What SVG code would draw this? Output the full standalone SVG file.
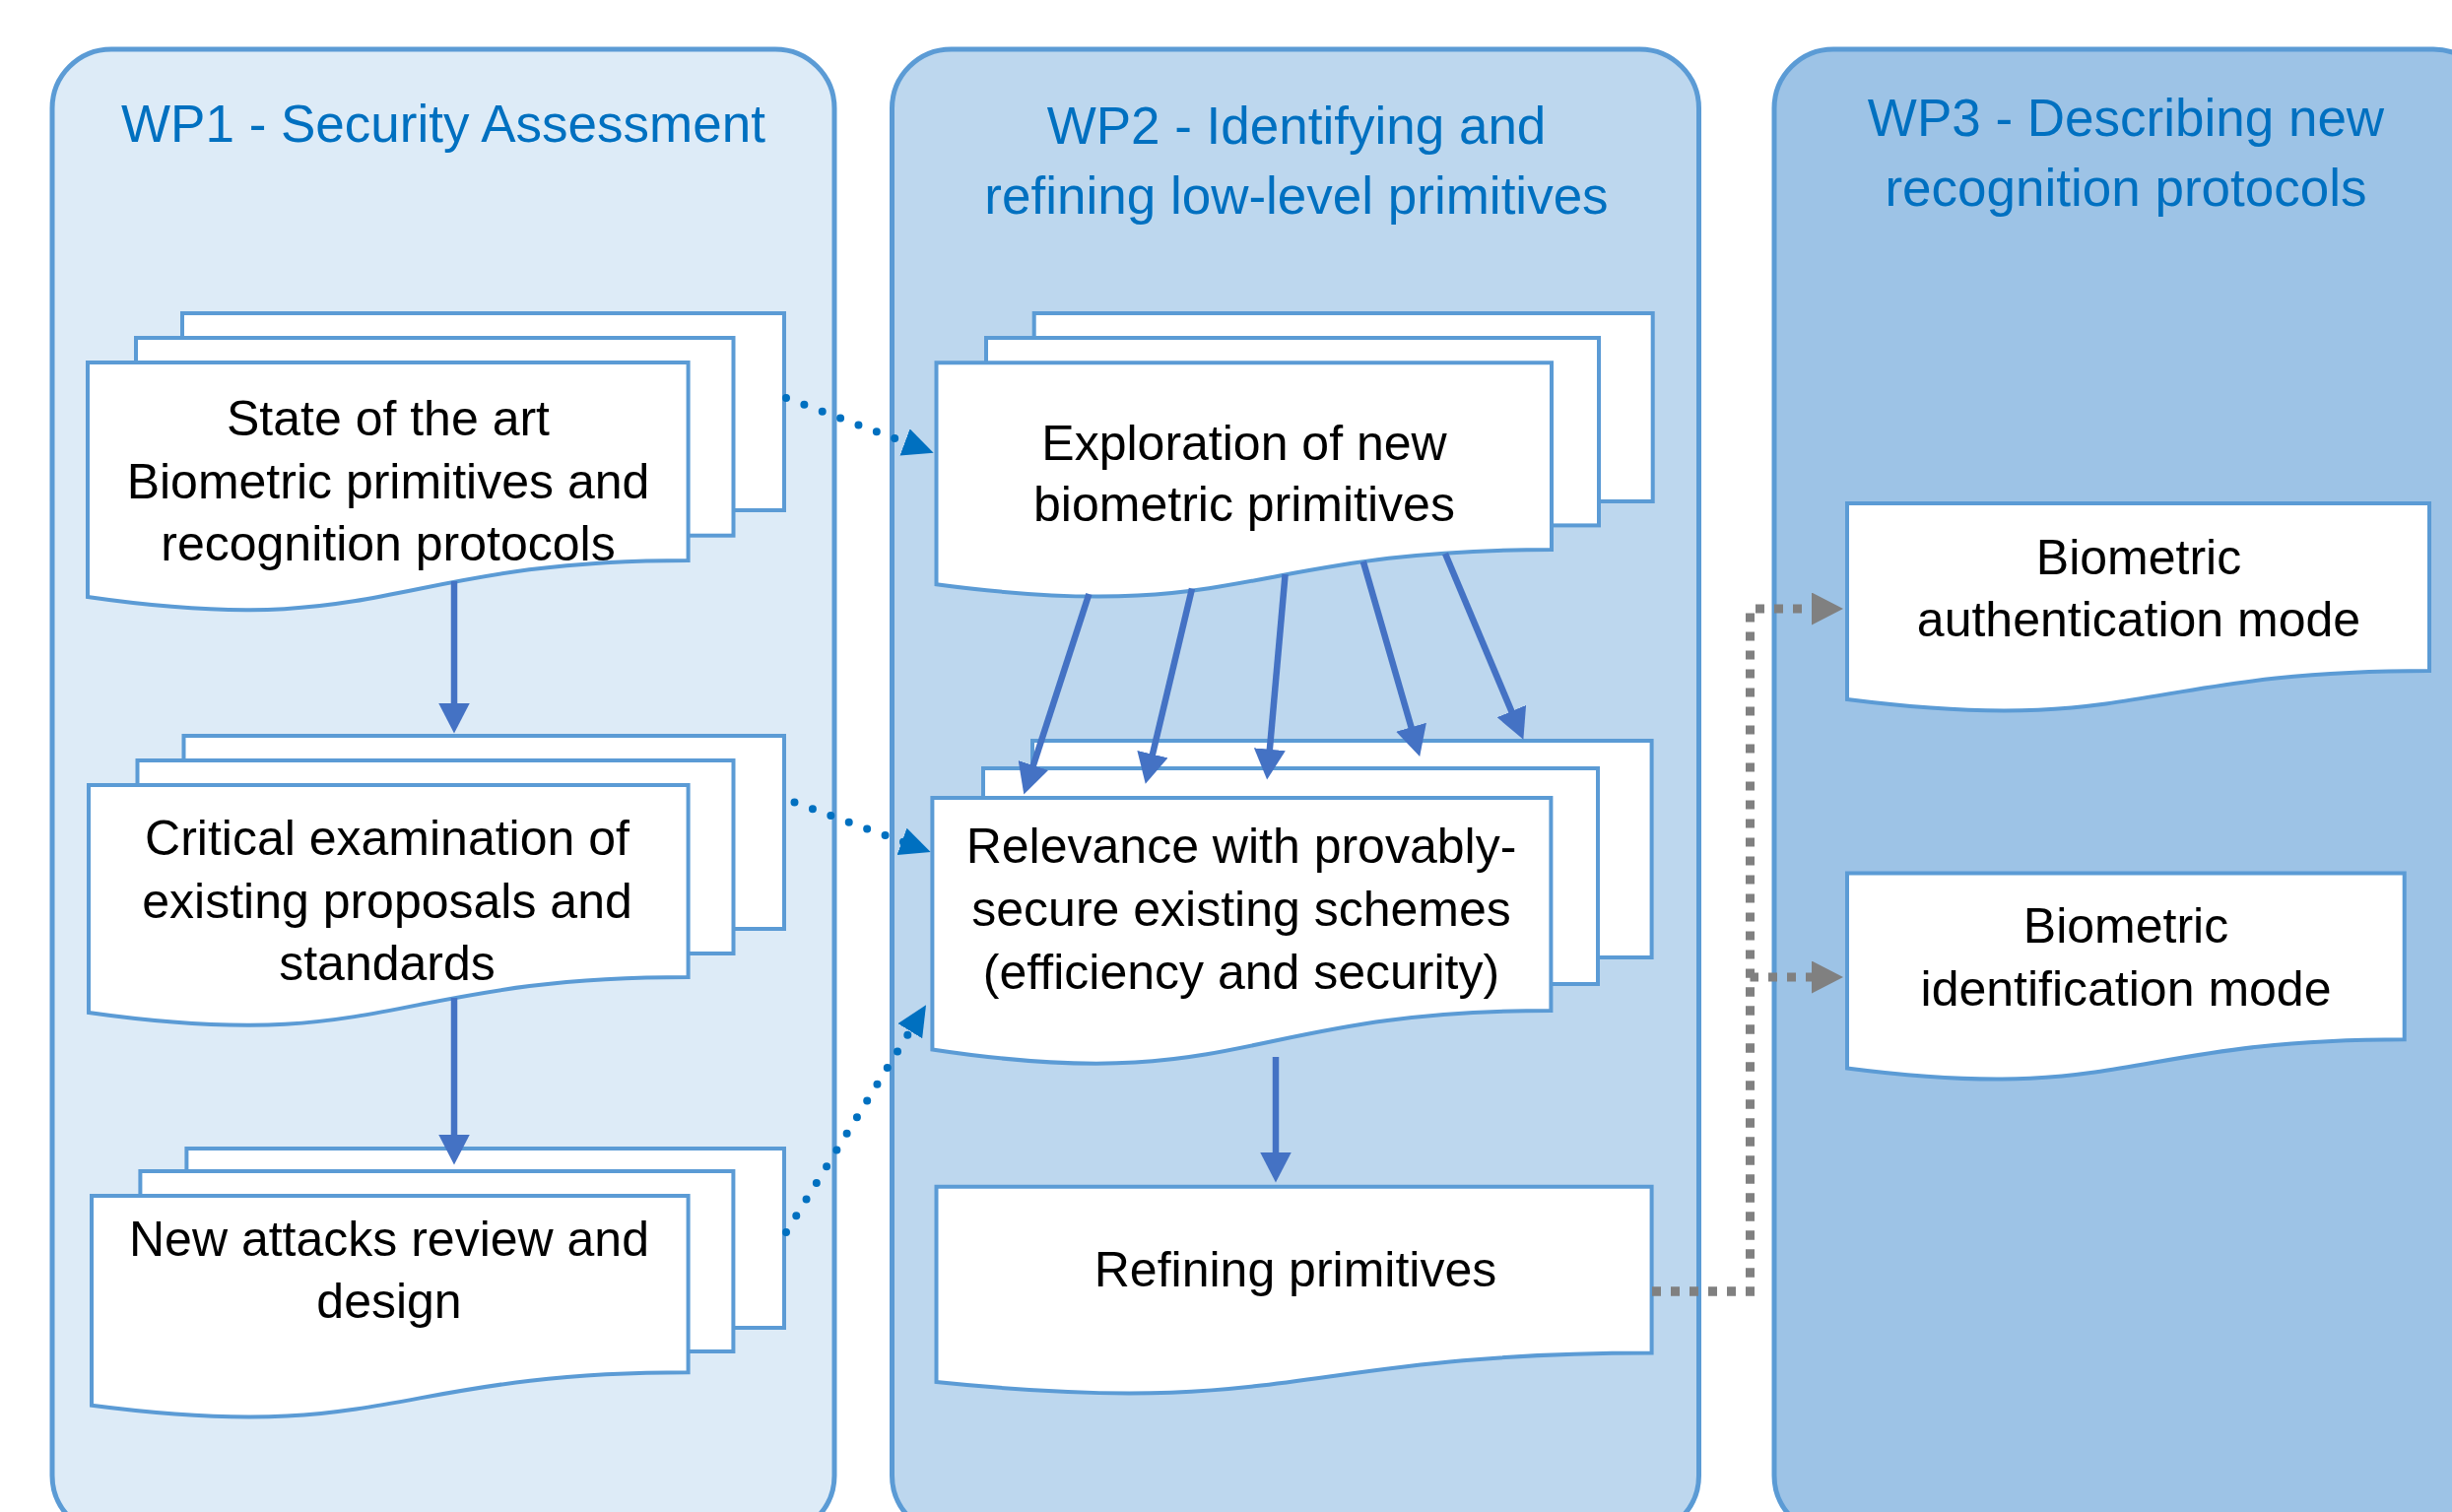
<svg xmlns="http://www.w3.org/2000/svg" width="2489" height="1535" viewBox="0 0 2489 1535">
  <defs>
    <style>
      .panel { stroke: #5B9BD5; stroke-width: 5; }
      .wp1 { fill: #DDEBF7; }
      .wp2 { fill: #BDD7EE; }
      .wp3 { fill: #9DC3E6; }
      .sheet { fill: #FFFFFF; stroke: #5B9BD5; stroke-width: 4; }
      .title { font-family: "Liberation Sans", Arial, sans-serif; font-size: 53px; fill: #0070C0; text-anchor: middle; }
      .label { font-family: "Liberation Sans", Arial, sans-serif; font-size: 50px; fill: #000000; text-anchor: middle; }
      .flow { fill: none; stroke: #4472C4; stroke-width: 6.5; marker-end: url(#headSolid); }
      .feed { fill: none; stroke: #0070C0; stroke-width: 8; stroke-linecap: round; stroke-dasharray: 0 19.6; marker-end: url(#headDot); }
      .out { fill: none; stroke: #808080; stroke-width: 9; stroke-dasharray: 9 10; marker-end: url(#headGray); }
    </style>
    <marker id="headSolid" markerUnits="userSpaceOnUse" markerWidth="32" markerHeight="32" refX="11" refY="16" orient="auto">
      <path d="M0,0 L31,16 L0,32 Z" fill="#4472C4"/>
    </marker>
    <marker id="headDot" markerUnits="userSpaceOnUse" markerWidth="33" markerHeight="30" refX="9" refY="14.5" orient="auto">
      <path d="M0,0 L31,14.5 L0,29 Z" fill="#0070C0"/>
    </marker>
    <marker id="headGray" markerUnits="userSpaceOnUse" markerWidth="34" markerHeight="33" refX="3" refY="16.5" orient="auto">
      <path d="M0,0 L32,16.5 L0,33 Z" fill="#808080"/>
    </marker>
  </defs>

  <rect width="2489" height="1535" fill="#FFFFFF"/>

  <!-- work package columns -->
  <g id="wp1">
    <rect class="panel wp1" x="53" y="50" width="794" height="1508" rx="60" ry="60"/>
    <text class="title" x="450" y="144">WP1 - Security Assessment</text>
  </g>
  <g id="wp2">
    <rect class="panel wp2" x="905.5" y="50" width="819" height="1508" rx="60" ry="60"/>
    <text class="title" x="1316" y="146">WP2 - Identifying and</text>
    <text class="title" x="1316" y="216.5">refining low-level primitives</text>
  </g>
  <g id="wp3">
    <rect class="panel wp3" x="1801" y="50" width="729" height="1508" rx="60" ry="60"/>
    <text class="title" x="2158" y="138.4">WP3 - Describing new</text>
    <text class="title" x="2158" y="209">recognition protocols</text>
  </g>

  <!-- WP1 tasks -->
  <g id="state-of-the-art">
    <rect class="sheet" x="185" y="318" width="611" height="200"/>
    <rect class="sheet" x="138" y="343" width="606.5" height="200.7"/>
    <path class="sheet" d="M89 368 H698.6 V569 C393.8 569 393.8 650.3 89 606.1 Z"/>
    <text class="label" x="394" y="442">State of the art</text>
    <text class="label" x="394" y="506">Biometric primitives and</text>
    <text class="label" x="394" y="569">recognition protocols</text>
  </g>
  <g id="critical-examination">
    <rect class="sheet" x="186.5" y="747" width="609.5" height="196"/>
    <rect class="sheet" x="139.5" y="772" width="605" height="196"/>
    <path class="sheet" d="M90 797 H698.6 V992 C394.3 992 394.3 1071 90 1028 Z"/>
    <text class="label" x="393" y="868">Critical examination of</text>
    <text class="label" x="393" y="931.5">existing proposals and</text>
    <text class="label" x="393" y="995">standards</text>
  </g>
  <g id="new-attacks">
    <rect class="sheet" x="189.4" y="1166" width="606.6" height="182"/>
    <rect class="sheet" x="142.4" y="1189" width="602" height="183"/>
    <path class="sheet" d="M93 1214 H698.6 V1393.3 C395.8 1393.3 395.8 1466.3 93 1426.8 Z"/>
    <text class="label" x="395" y="1275">New attacks review and</text>
    <text class="label" x="395" y="1337.5">design</text>
  </g>

  <!-- WP2 tasks -->
  <g id="exploration">
    <rect class="sheet" x="1049.7" y="318" width="628" height="191"/>
    <rect class="sheet" x="1001" y="343" width="622" height="190.4"/>
    <path class="sheet" d="M950.5 368.3 H1575 V558 C1262.75 558 1262.75 635 950.5 593.2 Z"/>
    <text class="label" x="1263" y="466.5">Exploration of new</text>
    <text class="label" x="1263" y="529">biometric primitives</text>
  </g>
  <g id="relevance">
    <rect class="sheet" x="1048" y="752" width="628.6" height="220"/>
    <rect class="sheet" x="998" y="780" width="624" height="219"/>
    <path class="sheet" d="M946.4 810 H1574.4 V1026 C1260.4 1026 1260.4 1113.1 946.4 1065.5 Z"/>
    <text class="label" x="1260" y="876">Relevance with provably-</text>
    <text class="label" x="1260" y="939.5">secure existing schemes</text>
    <text class="label" x="1260" y="1003.5">(efficiency and security)</text>
  </g>
  <g id="refining">
    <path class="sheet" d="M950.5 1204.8 H1676.6 V1373.6 C1313.5 1373.6 1313.5 1440.6 950.5 1403 Z"/>
    <text class="label" x="1315" y="1306">Refining primitives</text>
  </g>

  <!-- WP3 outputs -->
  <g id="authentication-mode">
    <path class="sheet" d="M1875 511 H2466 V681 C2170.5 681 2170.5 747.4 1875 710 Z"/>
    <text class="label" x="2171" y="582.5">Biometric</text>
    <text class="label" x="2171" y="646.4">authentication mode</text>
  </g>
  <g id="identification-mode">
    <path class="sheet" d="M1875 886.4 H2440.7 V1055.2 C2157.9 1055.2 2157.9 1121.2 1875 1084.5 Z"/>
    <text class="label" x="2158" y="956.7">Biometric</text>
    <text class="label" x="2158" y="1020.6">identification mode</text>
  </g>

  <!-- connectors -->
  <g id="connectors">
    <!-- WP1 sequence -->
    <path class="flow" d="M461 590 V724.5"/>
    <path class="flow" d="M461 1013 V1162.5"/>
    <!-- exploration fans out into relevance -->
    <path class="flow" d="M1105.4 603 L1045.5 787.5"/>
    <path class="flow" d="M1210 597.5 L1167.4 776.4"/>
    <path class="flow" d="M1304.6 583 L1287.9 771.7"/>
    <path class="flow" d="M1383.8 570 L1435.6 748.8"/>
    <path class="flow" d="M1467 562 L1538.6 732.2"/>
    <!-- relevance to refining -->
    <path class="flow" d="M1295 1073 V1180.5"/>
    <!-- WP1 findings feed WP2 -->
    <path class="feed" d="M798 404 L927 452.1"/>
    <path class="feed" d="M806.5 814.5 L924 857.4"/>
    <path class="feed" d="M798 1251 L928.5 1039"/>
    <!-- refined primitives to WP3 modes -->
    <path class="out" d="M1677 1311 H1776.5 V618 H1842"/>
    <path class="out" d="M1677 1311 H1776.5 V992 H1842"/>
  </g>
</svg>
